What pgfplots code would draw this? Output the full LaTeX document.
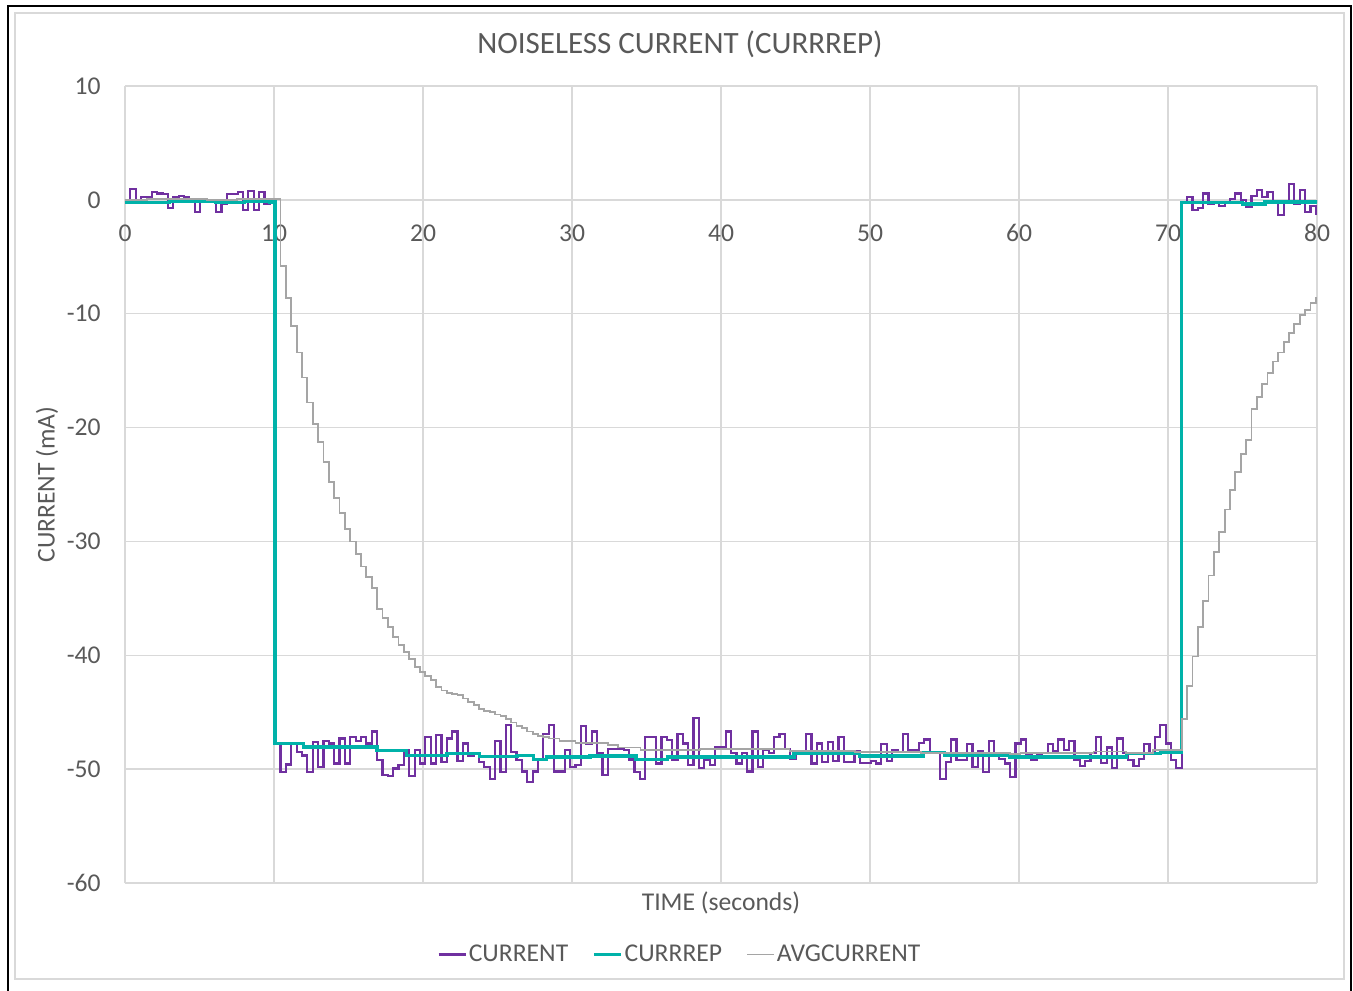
\documentclass[border=0pt]{standalone}
\usepackage{pgfplots}
\pgfplotsset{compat=1.18}
\usepackage{fontspec}
\setmainfont{Carlito}
\definecolor{txt}{HTML}{595959}
\definecolor{gridc}{HTML}{D9D9D9}
\definecolor{cpurple}{HTML}{7030A0}
\definecolor{cteal}{RGB}{0,178,169}
\definecolor{cgray}{HTML}{A5A5A5}
\begin{document}
\begin{tikzpicture}
\path[use as bounding box] (-62.5pt,-53.5pt) rectangle (614pt,441.5pt);
\draw[black, line width=0.8pt] (-58.5pt,-60pt) -- (-58.5pt,438.5pt) -- (613pt,438.5pt) -- (613pt,-60pt);
\draw[gridc, line width=0.75pt] (-55pt,-48pt) rectangle (609.5pt,435pt);
\begin{axis}[
  scale only axis, width=596pt, height=398.5pt,
  xmin=0, xmax=80, ymin=-60, ymax=10,
  xtick={0,10,...,80}, xticklabels={0,10,20,30,40,50,60,70,80},
  ytick={-60,-50,...,10}, yticklabels={-60,-50,-40,-30,-20,-10,0,10},
  grid=major, major grid style={draw=gridc, line width=0.75pt},
  axis line style={draw=none}, major tick length=0pt,
  font=\fontsize{12.8pt}{15pt}\selectfont, color=txt,
  xticklabel style={anchor=center, inner sep=0pt, yshift=325pt, text=txt},
  yticklabel style={anchor=east, inner sep=0pt, xshift=-12pt, text=txt},
  title={NOISELESS CURRENT (CURRREP)},
  title style={at={(axis description cs:0.4656,1.0377)}, anchor=center, font=\fontsize{15.5pt}{18pt}\selectfont, text=txt},
  xlabel={TIME (seconds)},
  xlabel style={at={(axis description cs:0.5,-0.0251)}, anchor=center, text=txt},
  ylabel={CURRENT (mA)},
  ylabel style={at={(axis description cs:-0.0654,0.5)}, anchor=center, rotate=0, text=txt},
  legend columns=3,
  legend style={at={(axis description cs:0.4656,-0.0898)}, anchor=center, draw=none, fill=none, inner sep=0pt,
    nodes={inner sep=1pt, text=txt}, /tikz/every even column/.append style={column sep=11pt}},
  legend image code/.code={\draw[#1] (0pt,0pt) -- (13.5pt,0pt);},
]
\addplot[const plot, cpurple, line width=1.1pt] coordinates {
(0,0.02) (0.36,0.93) (0.72,0.02) (1.08,0.26) (1.44,0.26) (1.8,0.70) (2.16,0.55) (2.52,0.49) (2.88,-0.68) (3.24,0.26)
(3.6,0.32) (3.96,0.26) (4.32,-0.18) (4.68,-1.06) (5.04,-0.18) (5.4,-0.18) (5.76,-0.09) (6.12,-1.06) (6.48,-0.33) (6.84,0.49)
(7.2,0.49) (7.56,0.70) (7.92,-0.86) (8.28,0.76) (8.64,-0.86) (9,0.70) (9.36,-0.33) (9.72,-0.18)
(10.08,-47.75) (10.44,-50.24) (10.8,-49.6) (11.16,-47.7) (11.52,-48.5) (11.88,-48.8) (12.24,-50.24) (12.6,-47.6) (12.96,-49.8) (13.32,-47.55)
(13.68,-47.75) (14.04,-49.5) (14.4,-47.3) (14.76,-49.5) (15.12,-47.2) (15.48,-47.55) (15.84,-47.2) (16.2,-47.75) (16.56,-46.7) (16.92,-49.2)
(17.28,-50.5) (17.64,-50.6) (18,-49.95) (18.36,-49.65) (18.72,-48.35) (19.08,-50.6) (19.44,-48.35) (19.8,-49.5) (20.16,-47.2) (20.52,-49.5)
(20.88,-47.0) (21.24,-49.4) (21.6,-47.3) (21.96,-46.7) (22.32,-49.3) (22.68,-47.75) (23.04,-48.8) (23.4,-48.6) (23.76,-49.4) (24.12,-49.8)
(24.48,-50.9) (24.84,-47.5) (25.2,-50.24) (25.56,-46.1) (25.92,-48.5) (26.28,-49.2) (26.64,-50.2) (27,-51.1) (27.36,-50.2) (27.72,-49.1)
(28.08,-46.9) (28.44,-46.1) (28.8,-50.2) (29.16,-50.2) (29.52,-48.35) (29.88,-49.8) (30.24,-49.65) (30.6,-46.2) (30.96,-47.75) (31.32,-46.7)
(31.68,-48.6) (32.04,-50.5) (32.4,-48.2) (32.76,-48.2) (33.12,-48.2) (33.48,-48.35) (33.84,-49.15) (34.2,-50.24) (34.56,-50.9) (34.92,-47.2)
(35.28,-47.2) (35.64,-49.5) (36,-47.2) (36.36,-47.45) (36.72,-49.15) (37.08,-46.9) (37.44,-47.75) (37.8,-49.65) (38.16,-45.5) (38.52,-49.9)
(38.88,-49.2) (39.24,-49.65) (39.6,-48.1) (39.96,-48.1) (40.32,-46.7) (40.68,-48.6) (41.04,-49.5) (41.4,-48.6) (41.76,-50.2) (42.12,-46.7)
(42.48,-49.8) (42.84,-48.35) (43.2,-48.6) (43.56,-47.2) (43.92,-46.9) (44.28,-48.2) (44.64,-49.1) (45,-48.6) (45.36,-48.6) (45.72,-46.9)
(46.08,-49.5) (46.44,-47.75) (46.8,-49.4) (47.16,-47.6) (47.52,-49.3) (47.88,-47.2) (48.24,-49.4) (48.6,-49.4) (48.96,-48.45) (49.32,-49.45)
(49.68,-49.45) (50.04,-49.3) (50.4,-49.5) (50.76,-47.8) (51.12,-49.3) (51.48,-48.35) (51.84,-48.5) (52.2,-46.9) (52.56,-48.35) (52.92,-48.35)
(53.28,-47.7) (53.64,-47.4) (54,-48.6) (54.36,-48.6) (54.72,-50.9) (55.08,-49.4) (55.44,-47.4) (55.8,-49.2) (56.16,-49.2) (56.52,-47.8)
(56.88,-49.8) (57.24,-48.45) (57.6,-50.24) (57.96,-47.55) (58.32,-48.8) (58.68,-49.1) (59.04,-49.5) (59.4,-50.7) (59.76,-47.75) (60.12,-47.4)
(60.48,-48.8) (60.84,-49.2) (61.2,-48.8) (61.56,-48.6) (61.92,-47.8) (62.28,-48.45) (62.64,-47.4) (63,-48.35) (63.36,-47.55) (63.72,-49.2)
(64.08,-49.75) (64.44,-49.3) (64.8,-48.6) (65.16,-47.2) (65.52,-49.45) (65.88,-48.1) (66.24,-49.9) (66.6,-47.3) (66.96,-48.6) (67.32,-49.2)
(67.68,-49.7) (68.04,-49.1) (68.4,-47.8) (68.76,-48.6) (69.12,-47.2) (69.48,-46.1) (69.84,-47.75) (70.2,-49.2) (70.56,-49.9)
(70.92,-0.18) (71.28,0.26) (71.64,-0.86) (72,-0.71) (72.36,0.55) (72.72,-0.33) (73.08,-0.18) (73.44,-0.56) (73.8,-0.18) (74.16,0.11)
(74.52,0.55) (74.88,-0.03) (75.24,-0.62) (75.6,0.32) (75.96,0.84) (76.32,0.26) (76.68,0.70) (77.04,-0.27) (77.4,-1.35) (77.76,-0.18)
(78.12,1.37) (78.48,-0.33) (78.84,0.90) (79.2,-1.06) (79.56,-0.56) (79.92,-1.2) (80,-1.2)
};
\addlegendentry{CURRENT}
\addplot[const plot, cteal, line width=1.7pt] coordinates {
(0,-0.25) (3.0,-0.12) (6.1,-0.25) (8.0,-0.12) (9.7,-0.2)
(10.08,-47.75) (11.97,-48.05) (16.9,-48.35) (18.9,-48.8) (21.6,-48.6) (23.8,-48.9) (26.3,-48.8) (27.4,-49.15) (28.3,-48.95)
(31.2,-48.85) (34.3,-49.15) (36.4,-48.95) (44.9,-48.6) (49.3,-48.85) (53.6,-48.55) (55.0,-48.8) (59.4,-48.93) (67.2,-48.6) (69.5,-48.5)
(70.92,-0.24) (75.0,-0.35) (76.5,-0.2) (80,-0.25)
};
\addlegendentry{CURRREP}
\addplot[const plot, cgray, line width=0.9pt] coordinates {
(0,0.0) (1.5,0.1) (3.5,0.05) (5.5,0.0) (7.5,0.05) (9.0,0.1)
(10.44,-5.8) (10.8,-8.6) (11.16,-11.1) (11.52,-13.4) (11.88,-15.6) (12.24,-17.8) (12.6,-19.7) (12.96,-21.3) (13.32,-23.0)
(13.68,-24.8) (14.04,-26.2) (14.4,-27.5) (14.76,-28.9) (15.12,-30.0) (15.48,-31.1) (15.84,-32.2) (16.2,-33.1) (16.56,-34.1)
(16.92,-35.9) (17.28,-36.7) (17.64,-37.5) (18,-38.4) (18.36,-39.1) (18.72,-39.7) (19.08,-40.3) (19.44,-41.0) (19.8,-41.5)
(20.16,-41.8) (20.52,-42.2) (20.88,-42.8) (21.24,-43.1) (21.6,-43.3) (21.96,-43.4) (22.32,-43.5) (22.68,-43.8) (23.04,-44.1)
(23.4,-44.4) (23.76,-44.7) (24.12,-44.9) (24.48,-45.0) (24.84,-45.2) (25.2,-45.3) (25.56,-45.6) (25.92,-45.9) (26.28,-46.2)
(26.64,-46.4) (27,-46.7) (27.36,-46.9) (27.72,-47.1) (28.08,-47.2) (28.44,-47.3) (29.16,-47.5) (30.24,-47.7) (32.4,-47.9)
(33.1,-48.1) (34.6,-48.35) (36.6,-48.3) (38.6,-48.2) (44.6,-48.4) (49,-48.5) (53.4,-48.6) (59.4,-48.7) (60.1,-48.55)
(63.6,-48.6) (65,-48.45) (67.2,-48.6) (69,-48.35)
(70.92,-45.6) (71.28,-42.7) (71.64,-40.1) (72,-37.5) (72.36,-35.2) (72.72,-33.0) (73.08,-30.9) (73.44,-29.2) (73.8,-27.2)
(74.16,-25.5) (74.52,-23.9) (74.88,-22.3) (75.24,-21.1) (75.6,-18.4) (75.96,-17.3) (76.32,-16.2) (76.68,-15.2) (77.04,-14.2)
(77.4,-13.4) (77.76,-12.5) (78.12,-11.7) (78.48,-10.9) (78.84,-10.1) (79.2,-9.7) (79.56,-9.06) (79.92,-8.6) (80,-8.6)
};
\addlegendentry{AVGCURRENT}
\end{axis}
\end{tikzpicture}
\end{document}
